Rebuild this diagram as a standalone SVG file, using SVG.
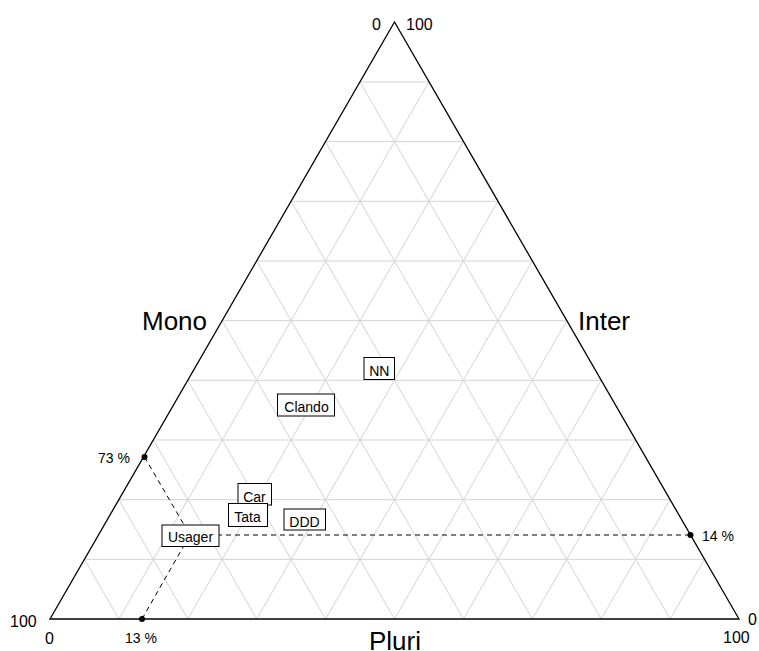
<svg xmlns="http://www.w3.org/2000/svg" width="759" height="651" viewBox="0 0 759 651">
<style>
text{font-family:"Liberation Sans",Arial,sans-serif;fill:#000}
.grid{stroke:#d3d3d3;stroke-width:1;fill:none}
.axis{stroke:#000;stroke-width:1.3;fill:none}
.dash{stroke:#000;stroke-width:1;stroke-dasharray:5,4;fill:none}
.box{fill:#fff;stroke:#000;stroke-width:1}
.lbl{font-size:14px;text-anchor:middle}
.pct{font-size:14px}
.corner{font-size:16px}
.title{font-size:26px}
</style>
<g id="grid">
<path class="grid" d="M84.45,559.33H704.55M118.9,499.66H670.1M153.35,439.99H635.65M187.8,380.32H601.2M222.25,320.65H566.75M256.7,260.98H532.3M291.15,201.31H497.85M325.6,141.64H463.4M360.05,81.97H428.95
M118.9,619L84.45,559.33M187.8,619L118.9,499.66M256.7,619L153.35,439.99M325.6,619L187.8,380.32M394.5,619L222.25,320.65M463.4,619L256.7,260.98M532.3,619L291.15,201.31M601.2,619L325.6,141.64M670.1,619L360.05,81.97
M118.9,619L428.95,81.97M187.8,619L463.4,141.64M256.7,619L497.85,201.31M325.6,619L532.3,260.98M394.5,619L566.75,320.65M463.4,619L601.2,380.32M532.3,619L635.65,439.99M601.2,619L670.1,499.66M670.1,619L704.55,559.33"/>
</g>
<g id="triangle">
<path class="axis" d="M50,619L394.5,22L739,619Z"/>
</g>
<g id="connectors">
<path class="dash" d="M144.5,457L190,535"/>
<path class="dash" d="M142,619L190,535"/>
<path class="dash" d="M190,535H690.5"/>
<circle cx="144.5" cy="457" r="3" fill="#000"/>
<circle cx="142" cy="619" r="3" fill="#000"/>
<circle cx="690.5" cy="535" r="3" fill="#000"/>
</g>
<g id="axis-labels">
<text class="title" x="142" y="330">Mono</text>
<text class="title" x="578" y="330">Inter</text>
<text class="title" x="395" y="650" text-anchor="middle">Pluri</text>
<text class="corner" x="372" y="30">0</text>
<text class="corner" x="406" y="30">100</text>
<text class="corner" x="10" y="627">100</text>
<text class="corner" x="45" y="644">0</text>
<text class="corner" x="748" y="625">0</text>
<text class="corner" x="723" y="643">100</text>
<text class="pct" x="98" y="463">73 %</text>
<text class="pct" x="125" y="643">13 %</text>
<text class="pct" x="702" y="541">14 %</text>
</g>
<g id="node-NN"><rect class="box" x="364" y="357.5" width="30.5" height="22"/><text class="lbl" x="379.3" y="375.5">NN</text></g>
<g id="node-Clando"><rect class="box" x="277.5" y="394" width="57" height="22"/><text class="lbl" x="306.5" y="411.5">Clando</text></g>
<g id="node-Car"><rect class="box" x="238" y="483.5" width="33.5" height="21.5"/><text class="lbl" x="254.5" y="501.5">Car</text></g>
<g id="node-Tata"><rect class="box" x="228.5" y="503.5" width="39" height="23"/><text class="lbl" x="247.5" y="522">Tata</text></g>
<g id="node-DDD"><rect class="box" x="284" y="509" width="41.5" height="21"/><text class="lbl" x="304.5" y="527">DDD</text></g>
<g id="node-Usager"><rect class="box" x="162" y="525" width="57" height="21.5"/><text class="lbl" x="190.5" y="541.5">Usager</text></g>
</svg>
